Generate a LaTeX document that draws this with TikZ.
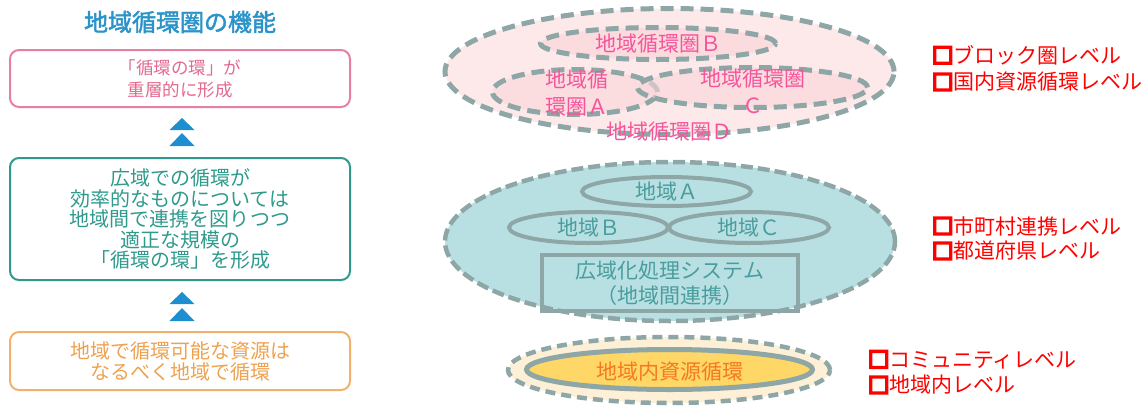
\documentclass[tikz,border=0pt]{standalone}
\usepackage{fontspec}
\setmainfont{Noto Sans CJK JP}
\newfontfamily\boldcjk[FakeBold=2]{Noto Sans CJK JP}
\newfontfamily\boxcjk[FakeBold=12]{Noto Sans CJK JP}
\usetikzlibrary{shapes.geometric}
\definecolor{titleblue}{HTML}{2B93C9}
\definecolor{triblue}{HTML}{1D8FD1}
\definecolor{pinkbd}{HTML}{E77FA3}
\definecolor{pinktx}{HTML}{E3698F}
\definecolor{tealbd}{HTML}{2F9A8C}
\definecolor{orangebd}{HTML}{F2B16A}
\definecolor{orangetx}{HTML}{EEA24F}
\definecolor{ringgray}{HTML}{8EA7A6}
\definecolor{pinkfill}{HTML}{FDE9EA}
\definecolor{pinkfilltwo}{HTML}{FBD6DA}
\definecolor{hotpink}{HTML}{F5559B}
\definecolor{tealfill}{HTML}{B8E0E3}
\definecolor{tealtx}{HTML}{4A9D9E}
\definecolor{creamfill}{HTML}{FDF0D6}
\definecolor{yellowfill}{HTML}{FED767}
\definecolor{orangetwo}{HTML}{F5791F}
\definecolor{lvred}{HTML}{FF0000}
\begin{document}
\begin{tikzpicture}[x=1pt,y=-1pt,
  lbox/.style={draw, rounded corners=9pt, line width=2pt, minimum width=340pt,
    inner sep=0pt, align=center, font=\fontsize{20}{20.5}\selectfont},
  dashring/.style={ellipse, draw=ringgray, line width=5pt, dash pattern=on 13pt off 7pt, inner sep=0pt},
  solidring/.style={ellipse, draw=ringgray, line width=4pt, inner sep=0pt},
  rtext/.style={inner sep=0pt, font=\fontsize{21}{27}\selectfont},
  lvl/.style={text=lvred, anchor=west, inner sep=0pt, font=\fontsize{21}{24}\selectfont}
]
\useasboundingbox (0,0) rectangle (1147,407);

% ---------- left column ----------
\node[inner sep=0pt, text=titleblue, font=\fontsize{24}{24}\boldcjk] (title) at (180,22) {地域循環圏の機能};

\node[lbox, draw=pinkbd, text=pinktx, minimum height=57pt, font=\fontsize{17.5}{22}\selectfont]
  (f1) at (180,78.5) {「循環の環」が\\重層的に形成};
\node[lbox, draw=tealbd, text=tealbd, minimum height=122pt]
  (f2) at (180,219) {広域での循環が\\効率的なものについては\\地域間で連携を図りつつ\\適正な規模の\\「循環の環」を形成};
\node[lbox, draw=orangebd, text=orangetx, minimum height=58pt, font=\fontsize{20}{21}\selectfont]
  (f3) at (180,361) {地域で循環可能な資源は\\なるべく地域で循環};

\fill[triblue] (169.5,130) -- (182,118) -- (194.5,130) -- cycle;
\fill[triblue] (169.5,146) -- (182,133) -- (194.5,146) -- cycle;
\fill[triblue] (169.5,304) -- (182,292) -- (194.5,304) -- cycle;
\fill[triblue] (169.5,321) -- (182,308) -- (194.5,321) -- cycle;

% ---------- top: block level ----------
\node[dashring, fill=pinkfill, minimum width=449pt, minimum height=126pt] (rD) at (669.5,71.5) {};
\node[dashring, fill=pinkfilltwo, fill opacity=0.7, minimum width=235pt, minimum height=32pt] (rB) at (658,43.5) {};
\node[dashring, fill=pinkfilltwo, fill opacity=0.6, minimum width=165pt, minimum height=45pt] (rA) at (575,92) {};
\node[dashring, fill=pinkfilltwo, fill opacity=0.6, minimum width=230pt, minimum height=40pt] (rC) at (752.5,87.5) {};
\node[rtext, text=hotpink] (tB) at (rB.center) {地域循環圏Ｂ};
\node[rtext, text=hotpink, align=left, anchor=west] (tA) at (545,93.5) {地域循\\環圏Ａ};
\node[rtext, text=hotpink, align=center] (tC) at (752.5,91.5) {地域循環圏\\Ｃ};
\node[rtext, text=hotpink] (tD) at (669.5,132) {地域循環圏Ｄ};

% ---------- middle: municipal level ----------
\node[ellipse, draw=ringgray, line width=4.5pt, dash pattern=on 12pt off 5pt, fill=tealfill, inner sep=0pt,
  minimum width=450pt, minimum height=159pt] (mBig) at (670,241.5) {};
\node[solidring, minimum width=169pt, minimum height=29pt] (mA) at (666.5,191.5) {};
\node[solidring, minimum width=159pt, minimum height=31pt] (mB) at (588.5,227.5) {};
\node[solidring, minimum width=160pt, minimum height=31pt] (mC) at (749,227.5) {};
\node[draw=ringgray, line width=4pt, minimum width=256pt, minimum height=56pt, inner sep=0pt] (mSys) at (670,283) {};
\node[rtext, text=tealtx] (tmA) at (mA.center) {地域Ａ};
\node[rtext, text=tealtx] (tmB) at (mB.center) {地域Ｂ};
\node[rtext, text=tealtx] (tmC) at (mC.center) {地域Ｃ};
\node[rtext, text=tealtx, align=center, font=\fontsize{21}{25}\selectfont] (tSys) at (mSys.center) {広域化処理システム\\（地域間連携）};

% ---------- bottom: community level ----------
\node[ellipse, draw=ringgray, line width=4.5pt, dash pattern=on 10pt off 6pt, fill=creamfill, inner sep=0pt,
  minimum width=322pt, minimum height=66pt] (bOut) at (669,370) {};
\node[ellipse, draw=ringgray, line width=5pt, fill=yellowfill, inner sep=0pt,
  minimum width=286pt, minimum height=40pt] (bIn) at (669.5,369.5) {};
\node[rtext, text=orangetwo] (tbIn) at (670,372) {地域内資源循環};

% ---------- level labels ----------
\node[lvl] (l1) at (932,55) {{\boxcjk □}ブロック圏レベル};
\node[lvl] (l2) at (932,82) {{\boxcjk □}国内資源循環レベル};
\node[lvl] (l3) at (932,226) {{\boxcjk □}市町村連携レベル};
\node[lvl] (l4) at (932,251) {{\boxcjk □}都道府県レベル};
\node[lvl] (l5) at (868,360) {{\boxcjk □}コミュニティレベル};
\node[lvl] (l6) at (868,385) {{\boxcjk □}地域内レベル};
\end{tikzpicture}
\end{document}
